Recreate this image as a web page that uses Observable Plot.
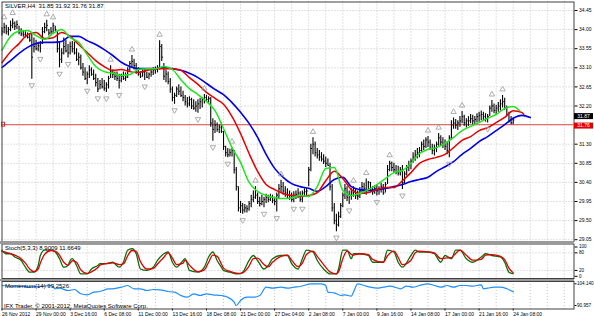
<!DOCTYPE html>
<html><head><meta charset="utf-8">
<script src="https://cdn.jsdelivr.net/npm/d3@7"></script>
<script src="https://cdn.jsdelivr.net/npm/@observablehq/plot@0.6"></script>
<style>
body{margin:0;background:#fff;}
#chart{position:relative;width:594px;height:316px;overflow:hidden;font-family:"Liberation Sans",Arial,sans-serif;background:#fff;}
#chart svg{position:absolute;left:0;}
.sep{position:absolute;left:0;width:574px;background:#9a9a9a;}
</style></head><body><div id="chart"></div>
<script>
// ---------- DATA ----------
const highs = [34.05,34.15,34.10,34.05,34.20,34.25,34.18,34.20,34.08,34.02,33.98,33.95,33.92,33.90,33.90,33.80,33.75,33.70,33.72,34.05,
34.15,34.22,34.00,34.05,34.15,34.08,33.95,33.70,33.55,33.80,33.75,33.65,33.70,33.72,33.70,33.55,33.45,33.40,33.20,33.10,
33.00,33.15,33.10,33.05,32.95,32.85,32.80,32.85,32.80,32.75,32.90,33.15,33.05,33.00,33.00,32.95,32.95,33.00,32.98,33.10,
33.25,33.39,33.30,33.20,33.10,33.00,33.05,33.08,33.00,32.98,33.05,33.10,33.12,33.15,33.74,33.65,33.20,33.05,33.00,32.85,
32.65,32.50,32.65,32.70,32.65,32.55,32.45,32.40,32.42,32.38,32.35,32.30,32.35,32.38,32.40,32.47,32.45,32.42,32.40,31.90,
31.85,31.80,31.75,31.80,31.60,31.25,31.20,31.18,31.22,31.15,30.75,30.30,29.95,29.90,29.88,29.85,29.95,30.10,30.20,30.30,
30.15,30.05,30.10,30.05,30.12,30.10,30.12,30.10,30.05,30.15,30.35,30.45,30.40,30.30,30.25,30.20,30.15,30.18,30.20,30.25,
30.18,30.20,30.25,30.25,30.75,31.30,31.45,31.35,31.20,31.15,31.10,31.05,31.00,30.95,30.85,30.35,29.90,29.65,29.70,29.90,
30.15,30.35,30.30,30.20,30.25,30.30,30.25,30.20,30.28,30.40,30.38,30.48,30.42,30.40,30.30,30.32,30.35,30.30,30.38,30.35,
30.40,30.80,30.90,30.88,30.85,30.80,30.78,30.75,30.80,30.65,30.80,30.90,30.95,31.10,31.15,31.20,31.22,31.35,31.40,31.45,
31.48,31.40,31.30,31.28,31.35,31.55,31.50,31.45,31.40,31.35,31.50,31.85,31.92,31.88,31.85,31.95,32.07,31.98,31.90,31.95,
32.00,31.98,31.95,32.02,32.05,32.08,32.05,32.02,32.00,32.20,32.33,32.25,32.22,32.28,32.35,32.45,32.38,32.20,32.05,31.95,
31.92];
const lows = [33.85,33.90,33.88,33.85,33.95,34.02,33.98,34.00,33.88,33.84,33.82,33.80,33.78,33.70,32.83,33.45,33.50,33.48,33.45,33.65,
33.90,33.95,33.85,33.88,33.90,33.95,33.45,33.10,33.20,33.40,33.45,33.33,33.40,33.45,33.40,33.25,33.15,33.05,32.90,32.80,
32.70,32.85,32.90,32.80,32.65,32.52,32.58,32.60,32.55,32.52,32.60,32.85,32.85,32.80,32.78,32.60,32.75,32.80,32.78,32.85,
33.00,33.10,33.05,32.95,32.90,32.85,32.88,32.80,32.85,32.82,32.88,32.92,32.95,32.98,33.05,33.25,32.80,32.75,32.70,32.50,
32.30,32.24,32.40,32.45,32.40,32.30,32.20,32.15,32.18,32.12,32.10,32.05,32.03,32.12,32.15,32.25,32.28,32.25,31.70,31.37,
31.55,31.58,31.55,31.55,31.15,31.00,30.98,31.00,31.00,30.60,30.20,29.70,29.67,29.65,29.68,29.68,29.72,29.80,29.92,30.00,
29.88,29.82,29.85,29.80,29.90,29.92,29.95,29.90,29.85,29.70,30.00,30.15,30.10,30.05,30.00,29.98,29.93,29.92,30.00,30.02,
29.93,29.92,30.05,30.05,30.30,30.65,31.05,31.00,30.95,30.90,30.88,30.82,30.75,30.78,30.20,29.70,29.40,29.24,29.35,29.55,
29.80,30.00,29.95,29.88,29.98,30.05,30.00,29.98,30.02,30.15,30.12,30.10,30.18,30.15,30.10,30.12,30.08,30.10,30.15,30.10,
30.15,30.35,30.65,30.65,30.62,30.58,30.55,30.55,30.23,30.35,30.55,30.65,30.70,30.85,30.90,30.95,30.98,31.10,31.15,31.20,
31.22,31.15,31.05,31.02,31.10,31.25,31.25,31.20,31.15,31.05,30.98,31.40,31.65,31.65,31.62,31.70,31.78,31.72,31.68,31.72,
31.78,31.75,31.75,31.80,31.82,31.85,31.85,31.82,31.80,31.95,32.05,32.02,32.00,32.05,32.08,32.15,32.10,31.95,31.80,31.76,
31.76];
const closes = [33.95,34.05,33.95,34.00,34.10,34.15,34.08,34.12,33.95,33.90,33.88,33.85,33.82,33.75,33.35,33.60,33.55,33.62,33.68,33.95,
34.05,34.10,33.92,33.95,34.10,34.00,33.55,33.30,33.45,33.60,33.50,33.45,33.60,33.55,33.45,33.30,33.35,33.10,33.00,32.85,
32.95,33.05,32.95,32.85,32.75,32.60,32.70,32.65,32.62,32.70,32.85,33.00,32.95,32.90,32.85,32.80,32.90,32.85,32.88,33.05,
33.20,33.25,33.15,33.00,32.95,32.90,33.00,33.02,32.88,32.95,33.00,33.05,33.08,33.10,33.60,33.35,32.90,32.95,32.78,32.60,
32.40,32.45,32.60,32.55,32.45,32.40,32.30,32.25,32.35,32.20,32.15,32.20,32.25,32.30,32.35,32.40,32.35,32.38,31.80,31.65,
31.75,31.65,31.70,31.60,31.25,31.10,31.05,31.10,31.15,30.70,30.30,29.80,29.85,29.75,29.80,29.78,29.90,30.00,30.05,30.10,
29.95,29.90,29.95,30.00,30.05,30.00,30.05,29.98,29.95,30.10,30.25,30.30,30.20,30.15,30.10,30.05,30.00,30.10,30.12,30.15,
30.00,30.15,30.18,30.20,30.70,31.20,31.30,31.10,31.05,31.00,30.95,30.90,30.85,30.80,30.30,29.80,29.50,29.40,29.60,29.85,
30.10,30.25,30.05,30.10,30.15,30.20,30.10,30.08,30.20,30.30,30.25,30.20,30.40,30.22,30.18,30.25,30.20,30.25,30.30,30.15,
30.35,30.70,30.85,30.75,30.70,30.65,30.62,30.70,30.40,30.60,30.75,30.80,30.90,31.00,31.05,31.10,31.15,31.30,31.25,31.40,
31.35,31.20,31.15,31.20,31.30,31.45,31.35,31.30,31.25,31.15,31.45,31.75,31.80,31.75,31.80,31.85,31.95,31.80,31.85,31.85,
31.90,31.85,31.88,31.95,31.98,32.00,31.95,31.90,31.95,32.15,32.20,32.10,32.15,32.20,32.25,32.30,32.15,32.00,31.85,31.80,
31.87];
const fractalUp = [1,5,21,24,51,61,74,95,108,119,131,146,165,171,182,200,205,212,216,230,235];
const fractalDown = [14,18,27,31,40,45,49,55,67,81,92,99,106,113,123,129,137,141,157,163,176,188,210,228];

// Alligator lines sampled every 4 bars (jaw shifted 8, teeth 5, lips 3)
const jaw = [33.11,33.27,33.44,33.58,33.67,33.70,33.70,33.72,33.84,33.84,
33.74,33.65,33.53,33.39,33.23,33.13,33.08,33.08,33.08,33.11,
33.08,33.04,32.97,32.87,32.73,32.59,32.47,32.28,32.05,31.79,
31.46,31.06,30.73,30.52,30.37,30.30,30.26,30.19,30.30,30.47,
30.52,30.30,30.23,30.21,30.23,30.26,30.30,30.35,30.42,30.47,
30.52,30.66,30.77,30.89,31.06,31.20,31.36,31.48,31.62,31.76,
31.91,31.98,31.93];
const teeth = [33.22,33.48,33.67,33.88,33.93,33.79,33.81,33.93,33.84,33.65,
33.46,33.27,33.13,33.04,33.06,33.01,32.99,33.04,33.08,33.08,
33.08,33.04,32.87,32.71,32.52,32.38,32.24,31.95,31.55,31.08,
30.66,30.35,30.23,30.14,30.09,30.07,30.09,30.16,30.44,30.66,
30.49,30.23,30.14,30.16,30.23,30.28,30.28,30.44,30.63,30.85,
30.94,30.99,31.06,31.22,31.39,31.48,31.62,31.69,31.81,31.93,
32.09,32.05,32.00];
const lips = [33.51,33.84,33.96,33.98,33.86,33.77,33.91,34.00,33.81,33.70,
33.41,33.13,33.01,32.97,32.92,32.94,33.06,33.08,33.08,33.13,
33.06,32.82,32.61,32.47,32.31,32.09,31.67,31.22,30.87,30.40,
30.19,30.09,30.04,30.02,30.04,30.09,30.07,30.30,30.73,30.75,
30.21,30.09,30.14,30.23,30.35,30.49,30.63,30.68,30.85,31.08,
31.18,31.22,31.32,31.46,31.62,31.72,31.81,31.91,32.00,32.14,
32.19,32.09];
const jawIdx = d3.range(0, 249, 4);
const teethIdx = [...d3.range(0, 245, 4), 245];
const lipsIdx = [...d3.range(0, 241, 4), 243];

const stochIdx = [0,2,4,6,9,11,13,15,17,18,20,23,25,27,29,31,32,33,35,37,40,42,45,46,49,52,55,57,59,61,
63,65,68,71,73,76,78,80,82,85,86,88,92,95,97,99,101,103,104,107,111,113,116,118,120,123,125,127,131,134,
136,139,141,143,146,148,151,154,157,158,160,162,164,165,168,172,174,179,181,184,186,188,192,194,196,200,203,206,208,211,
213,215,218,221,225,227,230,234,236,238,240];
const stochMain = [89,77,77,66,54,31,14,14,37,71,89,89,83,60,31,37,54,60,37,8,8,25,37,43,43,48,31,48,89,94,
77,25,20,31,54,77,83,48,31,54,60,20,14,31,66,83,54,31,20,14,8,14,54,71,54,25,37,60,71,71,
43,25,60,89,83,54,25,8,8,25,89,89,60,77,77,71,48,48,89,83,48,31,71,89,83,83,77,48,71,60,
89,89,60,48,66,77,71,66,48,14,8.9];
const stochSignal = [85,82,77,72,60,45,25,16,25,45,75,88,86,72,48,38,45,53,48,22,10,15,30,38,43,46,40,42,70,88,
85,50,25,26,42,65,80,62,40,45,55,38,16,22,48,72,68,42,28,17,10,12,35,60,62,40,32,48,68,72,
55,33,45,75,86,68,40,15,8,15,60,86,75,72,77,74,58,48,70,86,65,40,55,80,86,83,80,60,62,64,
78,89,72,55,58,72,74,68,57,28,11.7];

const momIdx = [0,4,9,13,18,23,25,27,31,34,37,40,43,46,50,52,56,59,62,65,68,71,74,78,81,84,87,90,93,96,
99,103,106,109,110,112,115,118,121,124,127,131,134,137,140,145,150,152,153,156,159,161,164,165,167,170,173,176,179,182,
186,187,190,193,196,200,203,206,209,212,215,218,221,225,226,228,231,234,237,240];
const momVal = [103.11,102.68,102.68,102.08,102.50,103.11,101.10,101.47,100.07,100.68,98.07,97.46,99.04,99.47,101.10,101.10,102.08,103.11,101.10,101.10,
100.07,100.68,100.50,99.47,99.04,97.04,96.01,98.07,97.04,98.07,97.46,97.04,96.01,92.97,90.96,94.00,96.01,96.01,97.04,102.08,
101.47,102.08,101.47,102.08,102.50,104.14,104.14,103.11,99.04,98.68,97.04,97.46,96.61,99.04,104.14,103.11,102.08,101.47,102.08,102.68,
101.47,101.10,102.68,102.08,103.11,104.14,103.11,102.08,103.11,102.08,103.11,103.11,102.68,103.53,101.10,101.47,102.08,102.08,101.10,99.25];

const priceTicks = [34.45,34.00,33.55,33.10,32.65,32.20,31.75,31.30,30.85,30.40,29.95,29.50,29.05];
const priceLabels = [34.45,34.00,33.55,33.10,32.65,32.20,31.30,30.85,30.40,29.95,29.50,29.05];
const dateIdx = [0,16,32,48,64,80,96,112,128,144,160,176,192,208,224,240];
const dateLabels = ["26 Nov 2012","29 Nov 00:00","3 Dec 16:00","6 Dec 08:00","11 Dec 00:00","13 Dec 16:00","18 Dec 08:00","21 Dec 00:00","27 Dec 04:00","2 Jan 08:00","7 Jan 00:00","9 Jan 16:00","14 Jan 08:00","17 Jan 00:00","21 Jan 16:00","24 Jan 08:00"];
const gridIdx = d3.range(8, 268, 8);
const stochLevels = [20, 80];
const stochTicks = [100, 80, 20, 0];
const momTicks = [104.140, 90.957];
const askLine = 31.76;
const lastClose = 31.87;
const title = "SILVER,H4  31.85 31.92 31.76 31.87";
const stochTitle = "Stoch(5,3,3) 8.9009 11.6649";
const momTitle = "Momentum(14) 99.2526";
const credit = "IFX Trader, \u00a9 2001-2012, MetaQuotes Software Corp.";

// ---------- BUILD ----------
const bars = highs.map((h, i) => ({i, high: h, low: lows[i], close: closes[i]}));
const ser = (idx, vals) => idx.map((i, k) => ({i, v: vals[k]}));

const X0 = 1.5, DX = 2.13, XMAX = 268.5;
const xs = {domain: [0, XMAX], range: [X0, X0 + DX * XMAX], axis: null, label: null};
const FONT = 6, SMALL = 5;
const FAM = "Liberation Sans, Arial, sans-serif";
const gridStyle = {stroke: "#c4c4c4", strokeDasharray: "1,2", strokeWidth: 1};
const root = document.getElementById("chart");

function place(svg, top) { svg.style.top = top + "px"; root.appendChild(svg); return svg; }

// main panel
const main = Plot.plot({
  width: 594, height: 242,
  marginLeft: 1.5, marginTop: 1.5, marginRight: 20.5, marginBottom: 1,
  x: xs,
  y: {domain: [29.05, 34.45], range: [239.2, 10], axis: null, label: null},
  style: {background: "transparent", fontFamily: FAM, overflow: "visible"},
  marks: [
    Plot.ruleY(priceTicks, gridStyle),
    Plot.ruleX(gridIdx, gridStyle),
    Plot.ruleY([askLine], {stroke: "#e05050", strokeWidth: 1}),
    Plot.ruleX(bars, {x: "i", y1: "low", y2: "high", stroke: "#000", strokeWidth: 1.1}),
    Plot.link(bars, {x1: "i", x2: d => d.i + 0.55, y1: "close", y2: "close", stroke: "#000", strokeWidth: 1}),
    Plot.line(ser(jawIdx, jaw), {x: "i", y: "v", stroke: "#0000e6", strokeWidth: 1.6, curve: "monotone-x"}),
    Plot.line(ser(teethIdx, teeth), {x: "i", y: "v", stroke: "#e60000", strokeWidth: 1.5, curve: "monotone-x"}),
    Plot.line(ser(lipsIdx, lips), {x: "i", y: "v", stroke: "#1ee61e", strokeWidth: 1.5, curve: "monotone-x"}),
    Plot.dot(fractalUp, {x: d => d, y: d => highs[d], symbol: "triangle", r: 2, stroke: "#999", fill: "none", strokeWidth: 0.8, dy: -6}),
    Plot.dot(fractalDown, {x: d => d, y: d => lows[d], symbol: "triangle", rotate: 180, r: 2, stroke: "#999", fill: "none", strokeWidth: 0.8, dy: 6}),
    Plot.axisY(priceLabels, {anchor: "right", label: null, tickSize: 3, tickPadding: 2, tickFormat: d => d.toFixed(2), fontSize: SMALL}),
    Plot.text([title], {frameAnchor: "top-left", dx: 3, dy: 2, fontSize: FONT, fill: "#000"}),
    Plot.frame({stroke: "#404040", strokeWidth: 1})
  ]
});
place(main, 0);
// current price boxes and left-edge marker, positioned with the plot's own y scale
{
  const y = main.scale("y");
  const svg = d3.select(main);
  [[lastClose, "#000", -3.4], [askLine, "#e00000", 1.4]].forEach(([v, col, off]) => {
    const cy = y.apply(v) + off;
    svg.append("rect").attr("x", 574).attr("y", cy - 3).attr("width", 19).attr("height", 6).attr("fill", col);
    svg.append("text").attr("x", 583.5).attr("y", cy).attr("dy", "0.35em").attr("text-anchor", "middle")
      .attr("font-size", SMALL).attr("fill", "#fff").text(v.toFixed(2));
  });
  svg.append("rect").attr("x", 1.5).attr("y", y.apply(askLine) - 2).attr("width", 3).attr("height", 4)
    .attr("fill", "none").attr("stroke", "#e00000").attr("stroke-width", 0.8);
}

// stochastic panel
const stoch = Plot.plot({
  width: 594, height: 36,
  marginLeft: 1.5, marginTop: 0.5, marginRight: 20.5, marginBottom: 1,
  x: xs,
  y: {domain: [0, 100], range: [32.8, 3.5], axis: null, label: null},
  style: {background: "transparent", fontFamily: FAM, overflow: "visible"},
  marks: [
    Plot.ruleY(stochLevels, gridStyle),
    Plot.ruleX(gridIdx, gridStyle),
    Plot.line(ser(stochIdx, stochMain), {x: "i", y: "v", stroke: "#0a6e0a", strokeWidth: 1.3, curve: "monotone-x"}),
    Plot.line(ser(stochIdx, stochSignal), {x: "i", y: "v", stroke: "#e00000", strokeWidth: 1.3, curve: "monotone-x"}),
    Plot.axisY(stochTicks, {anchor: "right", label: null, tickSize: 3, tickPadding: 2, fontSize: 4.6}),
    Plot.text([stochTitle], {frameAnchor: "top-left", dx: 3, dy: 2, fontSize: FONT, fill: "#000"}),
    Plot.frame({stroke: "#404040", strokeWidth: 1})
  ]
});
place(stoch, 243);

// momentum panel with date axis
const mom = Plot.plot({
  width: 594, height: 36,
  marginLeft: 1.5, marginTop: 1, marginRight: 20.5, marginBottom: 7.5,
  x: xs,
  y: {domain: [90.957, 104.14], range: [25, 3.3], axis: null, label: null},
  style: {background: "transparent", fontFamily: FAM, overflow: "visible"},
  marks: [
    Plot.ruleX(gridIdx, gridStyle),
    Plot.line(ser(momIdx, momVal), {x: "i", y: "v", stroke: "#1e90ff", strokeWidth: 1.2, curve: "monotone-x"}),
    Plot.axisY(momTicks, {anchor: "right", label: null, tickSize: 2, tickPadding: 1, tickFormat: d => d.toFixed(3), fontSize: 4.6}),
    Plot.axisX(dateIdx, {anchor: "bottom", label: null, tickSize: 2, tickPadding: 1, textAnchor: "start", tickFormat: d => dateLabels[dateIdx.indexOf(d)], fontSize: SMALL}),
    Plot.text([momTitle], {frameAnchor: "top-left", dx: 3, dy: 2, fontSize: FONT, fill: "#000"}),
    Plot.text([credit], {frameAnchor: "bottom-left", dx: 2, dy: -1, fontSize: FONT, fill: "#000"}),
    Plot.frame({stroke: "#404040", strokeWidth: 1})
  ]
});
place(mom, 280);

// panel separators
[[241, 2.5], [278.5, 2.5]].forEach(([t, h]) => {
  const d = document.createElement("div"); d.className = "sep";
  d.style.top = t + "px"; d.style.height = h + "px"; root.appendChild(d);
});
</script></body></html>
